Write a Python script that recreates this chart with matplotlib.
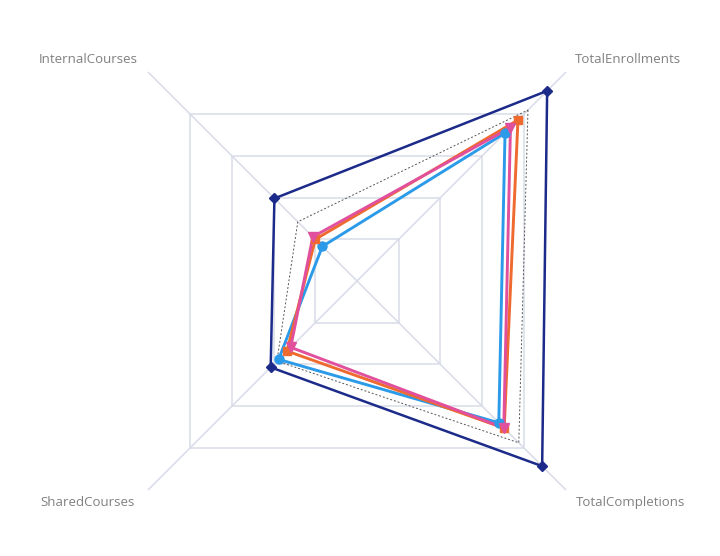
import numpy as np
import matplotlib
matplotlib.use("Agg")
import matplotlib.pyplot as plt

# Axes (categories), clockwise from top-right
categories = ["TotalEnrollments", "TotalCompletions", "SharedCourses", "InternalCourses"]
angles_deg = [45, -45, -135, 135]

# Series values (grid rings at 1,2,3,4; axis max 5)
navy = [4.56, 4.44, 2.07, 1.98]
dotted = [4.10, 3.88, 1.92, 1.42]
orange = [3.86, 3.53, 1.68, 1.00]
pink = [3.68, 3.52, 1.59, 1.06]
blue = [3.55, 3.40, 1.88, 0.83]

grid_levels = [1, 2, 3, 4]
axis_max = 5

fig = plt.figure(figsize=(7.2, 5.56), dpi=100)
ax = fig.add_axes([0, 0, 1, 1])
unit = 41.7
cx, cy = 357, 281
ax.set_xlim(-cx / unit, (720 - cx) / unit)
ax.set_ylim(-(556 - cy) / unit, cy / unit)
ax.set_aspect("equal")
ax.axis("off")

ang = np.radians(angles_deg)
dirx = np.sign(np.round(np.cos(ang), 6))
diry = np.sign(np.round(np.sin(ang), 6))

def xy(vals):
    v = np.asarray(vals, dtype=float)
    x = np.append(v * dirx, v[0] * dirx[0])
    y = np.append(v * diry, v[0] * diry[0])
    return x, y

gridc = "#d9dce8"
for lv in grid_levels:
    gx, gy = xy([lv] * 4)
    ax.plot(gx, gy, color=gridc, lw=1.1, zorder=1)
for dx, dy in zip(dirx, diry):
    ax.plot([0, axis_max * dx], [0, axis_max * dy], color=gridc, lw=1.1, zorder=1)

series = [
    (blue, "#2b9ae9", "o", 6.5, 2.1),
    (orange, "#ef6a2e", "s", 6, 2.1),
    (pink, "#e0509c", "v", 6.5, 2.1),
]
for vals, col, mk, ms, lw in series:
    x, y = xy(vals)
    ax.plot(x, y, color=col, lw=lw, zorder=3, solid_joinstyle="round")
    ax.plot(x[:-1], y[:-1], ls="none", marker=mk, ms=ms, color=col, zorder=4)

x, y = xy(dotted)
ax.plot(x, y, color="#555555", lw=0.7, ls=(0, (2, 2)), zorder=2)

x, y = xy(navy)
ax.plot(x, y, color="#1c2a8a", lw=1.8, zorder=5)
ax.plot(x[:-1], y[:-1], ls="none", marker="D", ms=5, color="#1c2a8a", zorder=6)

label_pos = {
    "TotalEnrollments": (6.5, 5.3),
    "TotalCompletions": (6.57, -5.3),
    "SharedCourses": (-6.45, -5.3),
    "InternalCourses": (-6.45, 5.3),
}
for c in categories:
    lx, ly = label_pos[c]
    ax.text(lx, ly, c, ha="center", va="center", fontsize=9.5,
            color="#808080", family=["Open Sans", "DejaVu Sans"])

fig.savefig("out.png", dpi=100, facecolor="white")
